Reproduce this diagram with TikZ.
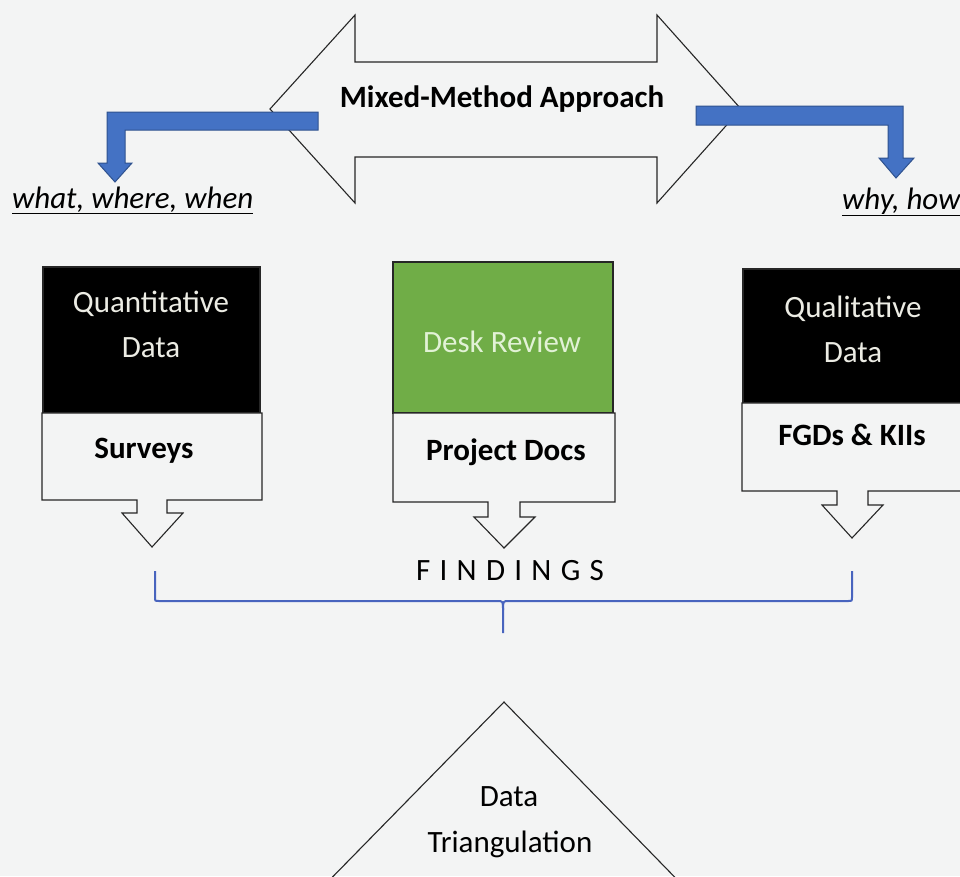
\documentclass[tikz,border=0pt]{standalone}
\usepackage{fontspec}
\setmainfont{Carlito}
\definecolor{paper}{RGB}{243,244,244}
\definecolor{bentblue}{RGB}{68,114,196}
\definecolor{bentedge}{RGB}{47,82,143}
\definecolor{deskgreen}{RGB}{112,173,71}
\definecolor{bracketblue}{RGB}{72,100,190}
\definecolor{palefont}{RGB}{236,236,228}
\definecolor{deskfont}{RGB}{226,242,214}
\newcommand{\bigtxt}{\fontsize{31}{45}\selectfont}

\begin{document}
\begin{tikzpicture}[x=1pt,y=-1pt,
  outline/.style={draw=black!85,line width=1.1pt},
  bent/.style={fill=bentblue,draw=bentedge,line width=1pt},
  lbl/.style={font=\bigtxt,inner sep=0pt,anchor=base},
  bracket/.style={draw=bracketblue,line width=2pt}]
\useasboundingbox (0,0) rectangle (960,876);
\clip (0,0) rectangle (960,876);
\fill[paper] (0,0) rectangle (960,876);
% double arrow
\draw[outline,fill=paper] (270,109) -- (355,15) -- (355,62) -- (657,62) -- (657,15)
  -- (741,109) -- (657,203) -- (657,157) -- (355,157) -- (355,203) -- cycle;
\node[lbl,font=\bigtxt\bfseries] (mixed) at (502,107) {Mixed-Method Approach};
% bent arrows
\draw[bent] (318,112) -- (107,112) -- (107,163) -- (98,163) -- (115,182) -- (132,163)
  -- (125,163) -- (125,130) -- (318,130) -- cycle;
\draw[bent] (696,106) -- (903,106) -- (903,158) -- (914,158) -- (896,178) -- (879,158)
  -- (888,158) -- (888,125) -- (696,125) -- cycle;
\node[lbl,anchor=base west] (what) at (12,208) {\underline{\textit{what, where, when}}};
\node[lbl,anchor=base west] (whyhow) at (842,209) {\underline{\textit{why, how}}};
% left column
\draw[outline,fill=black] (43,267) rectangle (260,413);
\draw[outline,fill=paper] (42,413) -- (262,413) -- (262,500) -- (167,500) -- (167,513)
  -- (183,513) -- (152,547) -- (122,513) -- (137,513) -- (137,500) -- (42,500) -- cycle;
\node[lbl,text=palefont] (quant) at (151,312) {Quantitative};
\node[lbl,text=palefont] (quantdata) at (151,357) {Data};
\node[lbl,font=\bigtxt\bfseries] (surveys) at (144,458) {Surveys};
% middle column
\draw[outline,fill=deskgreen] (393,262) rectangle (613,413);
\draw[outline,fill=paper] (393,413) -- (615,413) -- (615,502) -- (520,502) -- (520,517)
  -- (535,517) -- (504,548) -- (474,517) -- (488,517) -- (488,502) -- (393,502) -- cycle;
\node[lbl,text=deskfont] (desk) at (502,352) {Desk Review};
\node[lbl,font=\bigtxt\bfseries] (docs) at (506,460) {Project Docs};
% right column
\draw[outline,fill=black] (743,269) rectangle (962,403);
\draw[outline,fill=paper] (742,403) -- (962,403) -- (962,491) -- (868,491) -- (868,505)
  -- (883,505) -- (852,538) -- (822,505) -- (837,505) -- (837,491) -- (742,491) -- cycle;
\node[lbl,text=palefont] (qual) at (853,317) {Qualitative};
\node[lbl,text=palefont] (qualdata) at (853,362) {Data};
\node[lbl,font=\bigtxt\bfseries] (fgds) at (852,445) {FGDs \& KIIs};
% findings
\node[lbl,font=\bigtxt\addfontfeature{LetterSpace=30}] (findings) at (510,580) {FINDINGS};
\draw[bracket] (155,571) -- (155,597) .. controls (155,601) .. (159,601) -- (497,601)
  .. controls (503,601) .. (503,610) -- (503,633);
\draw[bracket] (503,610) .. controls (503,601) .. (509,601) -- (848,601)
  .. controls (852,601) .. (852,597) -- (852,571);
% triangulation
\draw[outline] (308,902) -- (504,702) -- (699,902);
\node[lbl] (triang1) at (509,806) {Data};
\node[lbl] (triang2) at (510,852) {Triangulation};
\end{tikzpicture}
\end{document}
